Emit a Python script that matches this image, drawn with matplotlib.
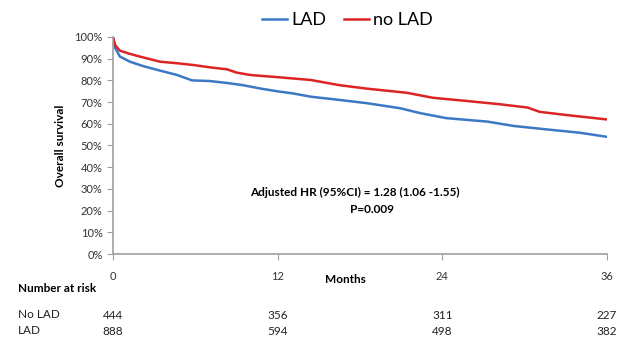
import matplotlib
matplotlib.use("Agg")
import matplotlib.pyplot as plt
from matplotlib.ticker import PercentFormatter

plt.rcParams['font.family'] = ['Lato', 'DejaVu Sans']

# survival curves (months, fraction surviving)
lad_months = [0, 0.15, 0.5, 1.24, 2.19, 3.43, 4.66, 5.76, 7.07, 8.31, 9.47, 10.7, 11.95,
              13.1, 14.4, 16.5, 18.5, 20.9, 22.4, 24.3, 27.3, 29.2, 32.1, 34.0, 36]
lad_surv = [1.0, 0.95, 0.91, 0.886, 0.866, 0.845, 0.825, 0.80, 0.797, 0.788, 0.778,
            0.763, 0.75, 0.74, 0.725, 0.71, 0.695, 0.672, 0.649, 0.626,
            0.61, 0.59, 0.571, 0.559, 0.54]

nolad_months = [0, 0.15, 0.5, 1.24, 2.19, 3.43, 4.66, 5.85, 7.07, 8.31, 9.0, 10.0, 11.95,
                14.4, 16.5, 18.5, 21.4, 23.3, 25.8, 28.2, 30.2, 31.1, 33.1, 36]
nolad_surv = [1.0, 0.963, 0.937, 0.922, 0.906, 0.886, 0.879, 0.871, 0.86, 0.851, 0.836,
              0.825, 0.815, 0.802, 0.778, 0.762, 0.743, 0.72, 0.705, 0.69, 0.675, 0.655,
              0.64, 0.62]

x_ticks = [0, 12, 24, 36]
risk_no_lad = [444, 356, 311, 227]
risk_lad = [888, 594, 498, 382]

fig = plt.figure(figsize=(6.26, 3.39), dpi=100)
ax = fig.add_axes([0.1805, 0.2507, 0.7891, 0.6402])

ax.plot(lad_months, lad_surv, color='#3c78c3', lw=1.8, label='LAD')
ax.plot(nolad_months, nolad_surv, color='#dc2424', lw=1.8, label='no LAD')

ax.set_xlim(0, 36)
ax.set_ylim(0, 1.0)
ax.set_xticks(x_ticks)
ax.set_yticks([i / 10 for i in range(11)])
ax.yaxis.set_major_formatter(PercentFormatter(1.0, decimals=0))
for s in ['top', 'right']:
    ax.spines[s].set_visible(False)
for s in ['left', 'bottom']:
    ax.spines[s].set_color('#a0a0a0')
    ax.spines[s].set_linewidth(1.2)
ax.tick_params(axis='both', colors='#a0a0a0', labelcolor='#333333', labelsize=8, length=4)
ax.tick_params(axis='x', pad=8)

ax.set_ylabel('Overall survival', fontsize=8.5, fontweight='bold', labelpad=6)
ax.text(0.47, -0.09, 'Months', transform=ax.transAxes, ha='center', va='top',
        fontsize=8.5, fontweight='bold')

ax.text(0.49, 0.285, 'Adjusted HR (95%CI) = 1.28 (1.06 -1.55)', transform=ax.transAxes,
        ha='center', va='center', fontsize=8.5, fontweight='bold')
ax.text(0.525, 0.205, 'P=0.009', transform=ax.transAxes,
        ha='center', va='center', fontsize=8.5, fontweight='bold')

leg = fig.legend(loc='center', bbox_to_anchor=(0.555, 0.94), ncol=2, frameon=False,
                 fontsize=13, handlelength=1.4, handletextpad=0.2, columnspacing=1.0)

# number at risk table
fig.text(18 / 626, 1 - 288 / 339, 'Number at risk', fontsize=8.5, fontweight='bold',
         ha='left', va='center')
fig.text(18 / 626, 1 - 315 / 339, 'No LAD', fontsize=8.5, ha='left', va='center', color='#222222')
fig.text(18 / 626, 1 - 331 / 339, 'LAD', fontsize=8.5, ha='left', va='center', color='#222222')
tr = ax.get_xaxis_transform()
for m, a, b in zip(x_ticks, risk_no_lad, risk_lad):
    ax.annotate(str(a), xy=(m, 0), xycoords=tr, xytext=(0, -(315 - 254)),
                textcoords='offset pixels', ha='center', va='center', fontsize=8.5,
                color='#222222', annotation_clip=False)
    ax.annotate(str(b), xy=(m, 0), xycoords=tr, xytext=(0, -(331 - 254)),
                textcoords='offset pixels', ha='center', va='center', fontsize=8.5,
                color='#222222', annotation_clip=False)

fig.savefig('out.png', dpi=100)
